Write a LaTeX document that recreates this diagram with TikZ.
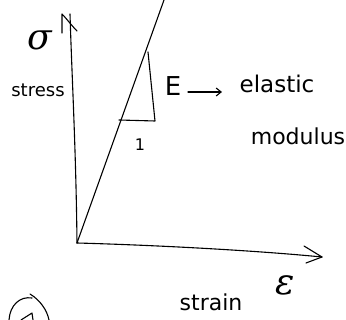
\documentclass[tikz,border=0pt]{standalone}
\usepackage{fontspec}
\setmainfont{DejaVu Sans}
\newfontfamily\greekfont{DejaVu Serif}
\usetikzlibrary{arrows.meta}
\tikzset{
  pen/.style={line width=1.1pt, line cap=round, line join=round, black},
  lbl/.style={inner sep=0pt, black},
}
\begin{document}
\begin{tikzpicture}[x=1pt,y=-1pt]
\useasboundingbox (0,0) rectangle (346,320);
% axes
\coordinate (O) at (77,243);
\coordinate (ytop) at (70,14);
\coordinate (xend) at (322,257);
\draw[pen] (O) .. controls (76,150) and (72,80) .. (ytop);
\draw[pen] (62,33) -- (62,14) .. controls (66,18) and (72,26) .. (77,31);
\draw[pen] (O) .. controls (150,245) and (250,250) .. (xend);
\draw[pen] (304,246) -- (xend) -- (306,263);
% elastic line
\coordinate (top) at (164,0);
\draw[pen] (O) -- (top);
% slope triangle
\coordinate (t1) at (148,52);
\coordinate (t2) at (155,121);
\coordinate (t3) at (119,120);
\draw[pen] (t1) -- (t2) -- (t3);
\node[lbl, font=\fontsize{16}{16}\selectfont] (one) at (140,145) {1};
% labels
\node[lbl, font=\greekfont\itshape\fontsize{36}{36}\selectfont] (sigma) at (40,40) {σ};
\node[lbl, font=\fontsize{18}{18}\selectfont] (stress) at (38,90) {stress};
\node[lbl, font=\fontsize{26}{26}\selectfont] (E) at (173,86) {E};
\node[lbl, font=\fontsize{23}{23}\selectfont] (el) at (277,84) {elastic};
\node[lbl, font=\fontsize{22}{22}\selectfont] (mod) at (298,136) {modulus};
\draw[pen, -{Straight Barb[length=5pt,width=8pt]}] (188,92) coordinate (ea) -- (222,92) coordinate (eb);
\node[lbl, font=\greekfont\itshape\fontsize{36}{36}\selectfont] (eps) at (285,285) {ε};
\node[lbl, font=\fontsize{22}{22}\selectfont, anchor=north] (strain) at (211,294) {strain};
% circled mark bottom-left
\draw[pen] (9,320) .. controls (10,305) and (20,296) .. (32,298);
\draw[pen] (30,294) .. controls (40,300) and (47,310) .. (49,320);
\draw[pen] (21,320) -- (32,313) -- (33,320);
\end{tikzpicture}
\end{document}
